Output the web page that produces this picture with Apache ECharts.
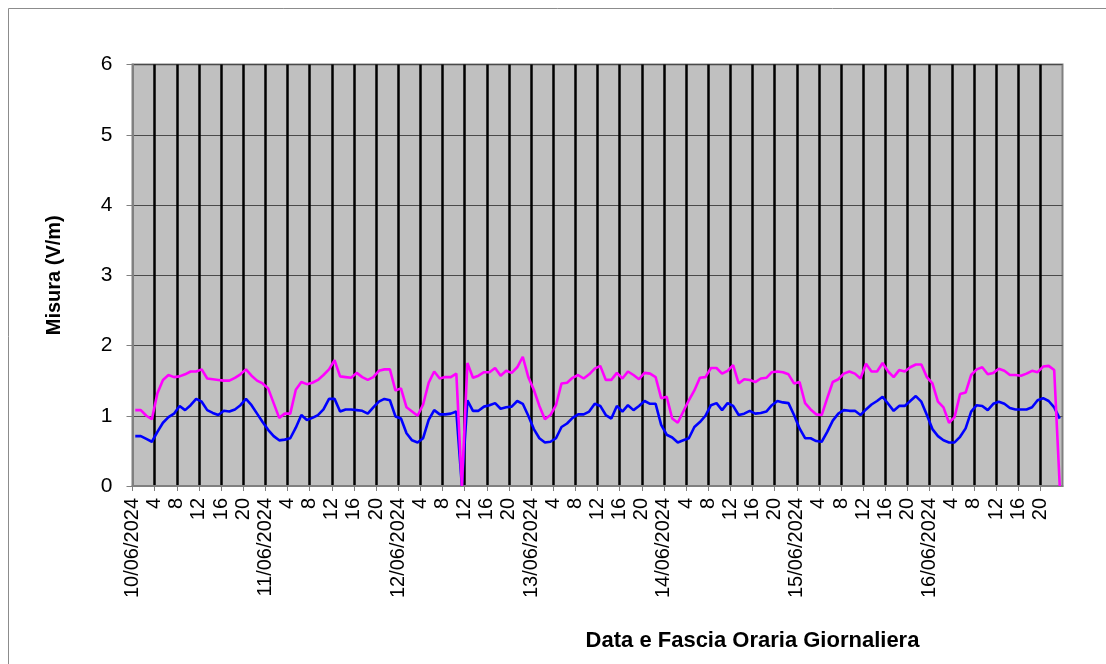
<!DOCTYPE html>
<html>
<head>
<meta charset="utf-8">
<script src="https://cdn.jsdelivr.net/npm/echarts@6/dist/echarts.min.js"></script>
<style>
  html, body { margin: 0; padding: 0; background: #fff; }
  #chart { width: 1106px; height: 664px; }
</style>
</head>
<body>
<div id="chart"></div>
<script>
// giorni in asse x (una etichetta ogni 24 ore)
var days = ["10/06/2024", "11/06/2024", "12/06/2024", "13/06/2024", "14/06/2024", "15/06/2024", "16/06/2024"];
var hoursPerTick = 4;
var yTicks = [0, 1, 2, 3, 4, 5, 6];

// misure orarie (V/m), una per ora dal 10/06 00:00
var blueValues = [
  0.71, 0.71, 0.67, 0.63, 0.77, 0.90, 0.98, 1.03, 1.14, 1.08, 1.15, 1.24, 1.20, 1.08, 1.04, 1.01, 1.07, 1.06, 1.09, 1.15, 1.24, 1.15, 1.03, 0.91, 0.80, 0.71, 0.65,
  0.66, 0.68, 0.83, 1.01, 0.94, 0.97, 1.01, 1.09, 1.24, 1.24, 1.06, 1.09, 1.09, 1.08, 1.07, 1.03, 1.12, 1.20, 1.24, 1.22, 0.99, 0.96, 0.75, 0.65, 0.62, 0.68, 0.94,
  1.08, 1.02, 1.02, 1.03, 1.06, 0, 1.22, 1.07, 1.07, 1.13, 1.15, 1.18, 1.10, 1.12, 1.13, 1.21, 1.17, 1.00, 0.81, 0.68, 0.62, 0.63, 0.68, 0.84, 0.89, 0.97, 1.02,
  1.02, 1.06, 1.17, 1.14, 1.01, 0.96, 1.14, 1.06, 1.15, 1.08, 1.14, 1.21, 1.17, 1.17, 0.87, 0.73, 0.69, 0.62, 0.65, 0.68, 0.84, 0.91, 1.00, 1.15, 1.18, 1.08, 1.18,
  1.14, 1.01, 1.03, 1.07, 1.03, 1.04, 1.06, 1.15, 1.21, 1.19, 1.18, 1.01, 0.82, 0.68, 0.68, 0.64, 0.63, 0.77, 0.93, 1.03, 1.08, 1.07, 1.07, 1.01, 1.09, 1.16, 1.21,
  1.27, 1.17, 1.07, 1.14, 1.14, 1.21, 1.28, 1.20, 1.01, 0.81, 0.71, 0.65, 0.62, 0.62, 0.70, 0.82, 1.06, 1.15, 1.14, 1.08, 1.17, 1.20, 1.17, 1.11, 1.09, 1.09, 1.09, 1.12, 1.22, 1.25, 1.21, 1.12, 0.96
];
var magentaValues = [
  1.08, 1.08, 1.00, 0.95, 1.32, 1.51, 1.58, 1.55, 1.56, 1.59, 1.63, 1.63, 1.66, 1.53, 1.52, 1.51, 1.50, 1.50, 1.54, 1.59, 1.66, 1.57, 1.50, 1.46, 1.39, 1.18, 0.97,
  1.03, 1.03, 1.37, 1.48, 1.45, 1.47, 1.51, 1.58, 1.66, 1.79, 1.56, 1.55, 1.54, 1.61, 1.55, 1.51, 1.55, 1.64, 1.66, 1.66, 1.36, 1.39, 1.12, 1.06, 1.00, 1.16, 1.47,
  1.63, 1.53, 1.55, 1.55, 1.60, 0, 1.75, 1.54, 1.57, 1.62, 1.62, 1.68, 1.57, 1.64, 1.61, 1.69, 1.84, 1.55, 1.37, 1.14, 0.95, 1.01, 1.15, 1.46, 1.47, 1.54, 1.58,
  1.53, 1.59, 1.67, 1.71, 1.51, 1.51, 1.61, 1.53, 1.63, 1.58, 1.52, 1.61, 1.60, 1.55, 1.25, 1.27, 0.96, 0.90, 1.06, 1.22, 1.36, 1.54, 1.55, 1.68, 1.68, 1.60, 1.64,
  1.72, 1.46, 1.52, 1.51, 1.48, 1.53, 1.54, 1.62, 1.63, 1.62, 1.59, 1.46, 1.48, 1.18, 1.09, 1.02, 1.01, 1.25, 1.48, 1.52, 1.60, 1.63, 1.60, 1.53, 1.74, 1.63, 1.63,
  1.75, 1.63, 1.55, 1.65, 1.63, 1.69, 1.73, 1.73, 1.55, 1.46, 1.20, 1.12, 0.90, 0.98, 1.31, 1.33, 1.58, 1.66, 1.69, 1.59, 1.61, 1.67, 1.64, 1.58, 1.58, 1.57, 1.60, 1.64, 1.62, 1.70, 1.71, 1.65, 0
];

var totalHours = days.length * 24;

// ogni misura sta al centro della sua ora
function toPoints(values) {
  var pts = [];
  for (var i = 0; i < values.length; i++) {
    pts.push([i + 0.5, values[i]]);
  }
  return pts;
}

var myChart = echarts.init(document.getElementById("chart"));

var option = {
  backgroundColor: "#ffffff",
  animation: false,
  grid: {
    left: 132.5,
    right: 43.5,
    top: 64.5,
    bottom: 178,
    show: true,
    backgroundColor: "#c0c0c0",
    borderColor: "#808080",
    borderWidth: 2
  },
  graphic: [
    {
      type: "rect",
      silent: true,
      shape: { x: 8.5, y: 8.5, width: 1120, height: 700 },
      style: { fill: "none", stroke: "#8c8c8c", lineWidth: 1 }
    },
    {
      type: "text",
      silent: true,
      style: {
        text: "Data e Fascia Oraria Giornaliera",
        x: 752.5,
        y: 641,
        textAlign: "center",
        textVerticalAlign: "middle",
        font: "bold 22px 'Liberation Sans', Arial, sans-serif",
        fill: "#000"
      }
    }
  ],
  xAxis: {
    type: "value",
    min: 0,
    max: totalHours,
    interval: hoursPerTick,
    axisLine: { onZero: false, lineStyle: { color: "#808080", width: 2 } },
    axisTick: { show: true, length: 5, lineStyle: { color: "#808080", width: 1 } },
    axisLabel: {
      rotate: 90,
      margin: 12,
      fontSize: 20,
      fontFamily: "'Liberation Sans', Arial, sans-serif",
      color: "#000",
      showMaxLabel: false,
      formatter: function (v) {
        if (v >= totalHours) return "";
        if (v % 24 === 0) return days[v / 24];
        return String(v % 24);
      }
    },
    splitLine: {
      show: true,
      showMinLine: false,
      showMaxLine: false,
      lineStyle: { color: "#000000", width: 2.5 }
    }
  },
  yAxis: {
    type: "value",
    min: yTicks[0],
    max: yTicks[yTicks.length - 1],
    interval: 1,
    name: "Misura (V/m)",
    nameLocation: "middle",
    nameGap: 68,
    nameTextStyle: {
      fontSize: 20,
      fontWeight: "bold",
      fontFamily: "'Liberation Sans', Arial, sans-serif",
      color: "#000"
    },
    axisLine: { show: true, lineStyle: { color: "#808080", width: 2 } },
    axisTick: { show: true, length: 6, lineStyle: { color: "#808080", width: 1 } },
    axisLabel: {
      margin: 20,
      fontSize: 21,
      fontFamily: "'Liberation Sans', Arial, sans-serif",
      color: "#000"
    },
    splitLine: { show: true, lineStyle: { color: "#4a4a4a", width: 1 } }
  },
  series: [
    {
      name: "blu",
      type: "line",
      data: toPoints(blueValues),
      symbol: "none",
      lineStyle: { color: "#0000ff", width: 2.6 },
      itemStyle: { color: "#0000ff" },
      z: 3
    },
    {
      name: "magenta",
      type: "line",
      data: toPoints(magentaValues),
      symbol: "none",
      lineStyle: { color: "#ff00ff", width: 2.6 },
      itemStyle: { color: "#ff00ff" },
      z: 4
    }
  ]
};

myChart.setOption(option);
window.addEventListener("resize", function () {
  myChart.resize();
});
</script>
</body>
</html>
